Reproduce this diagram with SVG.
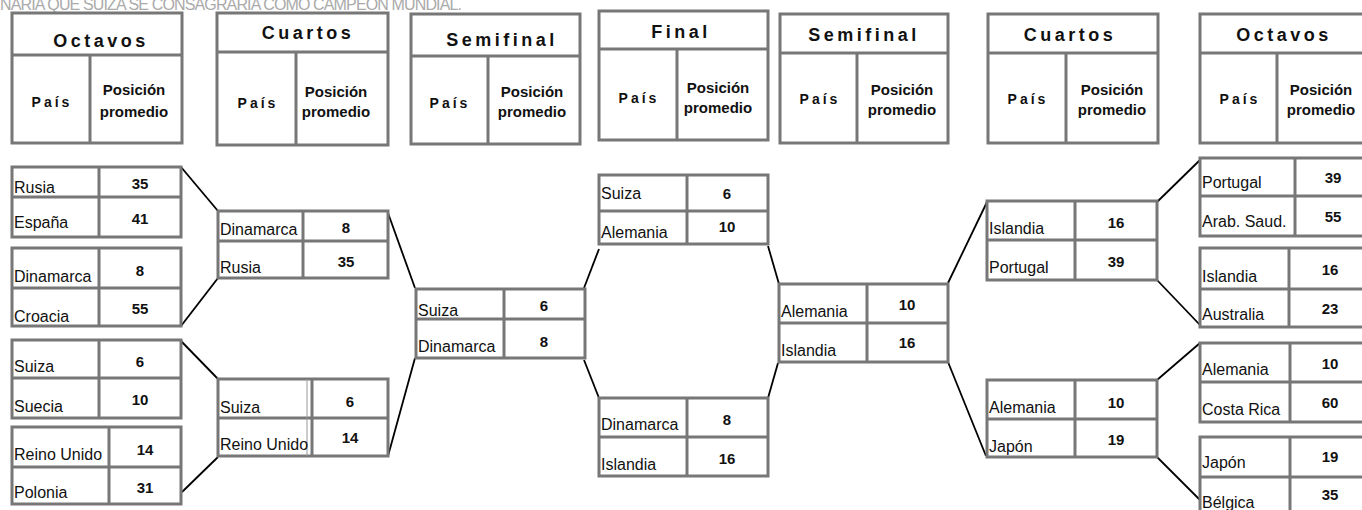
<svg xmlns="http://www.w3.org/2000/svg" width="1362" height="510" viewBox="0 0 1362 510">
<style>
.bg{fill:#fff}
.box{fill:#fff;stroke:#777;stroke-width:3}
.ln{stroke:#777;stroke-width:3}
.thin{stroke:#999;stroke-width:1}
.conn{stroke:#000;stroke-width:1.8;fill:none}
.c{font-family:"Liberation Sans",Arial,sans-serif;font-size:16px;fill:#111}
.n{font-family:"Liberation Sans",Arial,sans-serif;font-size:15px;font-weight:bold;fill:#111;text-anchor:middle}
.t{font-family:"Liberation Sans",Arial,sans-serif;font-size:18px;font-weight:bold;fill:#111;text-anchor:middle;letter-spacing:3.5px}
.p{font-family:"Liberation Sans",Arial,sans-serif;font-size:14px;font-weight:bold;fill:#111;text-anchor:middle;letter-spacing:3px}
.h{font-family:"Liberation Sans",Arial,sans-serif;font-size:15px;font-weight:bold;fill:#111;text-anchor:middle}
.top{font-family:"Liberation Sans",Arial,sans-serif;font-size:16px;fill:#aaa}
</style>
<rect class="bg" x="0" y="0" width="1362" height="510"/>
<text class="top" x="0" y="10" textLength="462" lengthAdjust="spacing">NARIA QUE SUIZA SE CONSAGRARÍA COMO CAMPEÓN MUNDIAL.</text>

<g id="connectors">
<line class="conn" x1="181" y1="167" x2="218" y2="211"/>
<line class="conn" x1="181" y1="326" x2="218" y2="278"/>
<line class="conn" x1="181" y1="341" x2="218" y2="379"/>
<line class="conn" x1="182" y1="492" x2="218" y2="457"/>
<line class="conn" x1="388" y1="213" x2="415" y2="288"/>
<line class="conn" x1="388" y1="456" x2="415" y2="358"/>
<line class="conn" x1="584" y1="288" x2="599" y2="249"/>
<line class="conn" x1="584" y1="360" x2="599" y2="398"/>
<line class="conn" x1="768" y1="246" x2="779" y2="284"/>
<line class="conn" x1="768" y1="398" x2="778" y2="363"/>
<line class="conn" x1="948" y1="283" x2="987" y2="202"/>
<line class="conn" x1="948" y1="362" x2="986" y2="456"/>
<line class="conn" x1="1157" y1="202" x2="1200" y2="160"/>
<line class="conn" x1="1157" y1="280" x2="1200" y2="325"/>
<line class="conn" x1="1157" y1="380" x2="1200" y2="343"/>
<line class="conn" x1="1157" y1="457" x2="1200" y2="500"/>
</g>

<!-- Headers -->
<g id="hdr-octavos-l">
<rect class="box" x="12" y="13" width="170" height="130"/>
<line class="ln" x1="12" y1="55" x2="182" y2="55"/>
<line class="ln" x1="90" y1="55" x2="90" y2="143"/>
<text class="t" x="101" y="47">Octavos</text>
<text class="p" x="52" y="107">País</text>
<text class="h" x="134" y="95">Posición</text>
<text class="h" x="134" y="117">promedio</text>
</g>
<g id="hdr-cuartos-l">
<rect class="box" x="217" y="13" width="171" height="132"/>
<line class="ln" x1="217" y1="52" x2="388" y2="52"/>
<line class="ln" x1="296" y1="52" x2="296" y2="145"/>
<text class="t" x="308" y="39">Cuartos</text>
<text class="p" x="258" y="108">País</text>
<text class="h" x="336" y="97">Posición</text>
<text class="h" x="336" y="117">promedio</text>
</g>
<g id="hdr-semifinal-l">
<rect class="box" x="411" y="14" width="169" height="130"/>
<line class="ln" x1="411" y1="56" x2="580" y2="56"/>
<line class="ln" x1="488" y1="56" x2="488" y2="144"/>
<text class="t" x="502" y="46">Semifinal</text>
<text class="p" x="450" y="108">País</text>
<text class="h" x="532" y="97">Posición</text>
<text class="h" x="532" y="117">promedio</text>
</g>
<g id="hdr-final">
<rect class="box" x="599" y="11" width="169" height="129"/>
<line class="ln" x1="599" y1="49" x2="768" y2="49"/>
<line class="ln" x1="677" y1="49" x2="677" y2="140"/>
<text class="t" x="681" y="38">Final</text>
<text class="p" x="639" y="103">País</text>
<text class="h" x="718" y="93">Posición</text>
<text class="h" x="718" y="113">promedio</text>
</g>
<g id="hdr-semifinal-r">
<rect class="box" x="780" y="14" width="168" height="129"/>
<line class="ln" x1="780" y1="53" x2="948" y2="53"/>
<line class="ln" x1="857" y1="53" x2="857" y2="143"/>
<text class="t" x="864" y="41">Semifinal</text>
<text class="p" x="820" y="104">País</text>
<text class="h" x="902" y="95">Posición</text>
<text class="h" x="902" y="115">promedio</text>
</g>
<g id="hdr-cuartos-r">
<rect class="box" x="988" y="14" width="170" height="129"/>
<line class="ln" x1="988" y1="53" x2="1158" y2="53"/>
<line class="ln" x1="1066" y1="53" x2="1066" y2="143"/>
<text class="t" x="1070" y="41">Cuartos</text>
<text class="p" x="1028" y="104">País</text>
<text class="h" x="1112" y="95">Posición</text>
<text class="h" x="1112" y="115">promedio</text>
</g>
<g id="hdr-octavos-r">
<rect class="box" x="1200" y="14" width="172" height="129"/>
<line class="ln" x1="1200" y1="53" x2="1372" y2="53"/>
<line class="ln" x1="1277" y1="53" x2="1277" y2="143"/>
<text class="t" x="1284" y="41">Octavos</text>
<text class="p" x="1240" y="104">País</text>
<text class="h" x="1321" y="95">Posición</text>
<text class="h" x="1321" y="115">promedio</text>
</g>

<!-- Octavos left -->
<g id="o1">
<rect class="box" x="12" y="167" width="169" height="70"/>
<line class="ln" x1="12" y1="197" x2="181" y2="197"/>
<line class="ln" x1="99" y1="167" x2="99" y2="237"/>
<text class="c" x="14" y="193">Rusia</text><text class="n" x="140" y="189">35</text>
<text class="c" x="14" y="228">España</text><text class="n" x="140" y="224">41</text>
</g>
<g id="o2">
<rect class="box" x="12" y="248" width="169" height="78"/>
<line class="ln" x1="12" y1="288" x2="181" y2="288"/>
<line class="ln" x1="99" y1="248" x2="99" y2="326"/>
<text class="c" x="14" y="282">Dinamarca</text><text class="n" x="140" y="276">8</text>
<text class="c" x="14" y="322">Croacia</text><text class="n" x="140" y="314">55</text>
</g>
<g id="o3">
<rect class="box" x="12" y="340" width="169" height="78"/>
<line class="ln" x1="12" y1="378" x2="181" y2="378"/>
<line class="ln" x1="99" y1="340" x2="99" y2="418"/>
<text class="c" x="14" y="372">Suiza</text><text class="n" x="140" y="367">6</text>
<text class="c" x="14" y="412">Suecia</text><text class="n" x="140" y="405">10</text>
</g>
<g id="o4">
<rect class="box" x="12" y="427" width="169" height="77"/>
<line class="ln" x1="12" y1="467" x2="181" y2="467"/>
<line class="ln" x1="109" y1="427" x2="109" y2="504"/>
<text class="c" x="14" y="460">Reino Unido</text><text class="n" x="145" y="455">14</text>
<text class="c" x="14" y="498">Polonia</text><text class="n" x="145" y="493">31</text>
</g>

<!-- Cuartos left -->
<g id="c1">
<rect class="box" x="218" y="211" width="170" height="67"/>
<line class="ln" x1="218" y1="241" x2="388" y2="241"/>
<line class="ln" x1="303" y1="211" x2="303" y2="278"/>
<text class="c" x="220" y="235">Dinamarca</text><text class="n" x="346" y="233">8</text>
<text class="c" x="220" y="273">Rusia</text><text class="n" x="346" y="267">35</text>
</g>
<g id="c2">
<rect class="box" x="218" y="379" width="170" height="77"/>
<line class="ln" x1="218" y1="418" x2="388" y2="418"/>
<line class="thin" x1="307" y1="379" x2="307" y2="456"/>
<line class="ln" x1="312" y1="379" x2="312" y2="456"/>
<text class="c" x="220" y="413">Suiza</text><text class="n" x="350" y="407">6</text>
<text class="c" x="220" y="450">Reino Unido</text><text class="n" x="350" y="443">14</text>
</g>

<!-- Semifinal left -->
<g id="s1">
<rect class="box" x="416" y="289" width="169" height="69"/>
<line class="ln" x1="416" y1="319" x2="585" y2="319"/>
<line class="ln" x1="504" y1="289" x2="504" y2="358"/>
<text class="c" x="418" y="316">Suiza</text><text class="n" x="544" y="311">6</text>
<text class="c" x="418" y="352">Dinamarca</text><text class="n" x="544" y="347">8</text>
</g>

<!-- Final -->
<g id="f1">
<rect class="box" x="599" y="175" width="169" height="69"/>
<line class="ln" x1="599" y1="211" x2="768" y2="211"/>
<line class="ln" x1="687" y1="175" x2="687" y2="244"/>
<text class="c" x="601" y="199">Suiza</text><text class="n" x="727" y="199">6</text>
<text class="c" x="601" y="238">Alemania</text><text class="n" x="727" y="232">10</text>
</g>
<g id="f2">
<rect class="box" x="599" y="398" width="169" height="78"/>
<line class="ln" x1="599" y1="437" x2="768" y2="437"/>
<line class="ln" x1="687" y1="398" x2="687" y2="476"/>
<text class="c" x="601" y="430">Dinamarca</text><text class="n" x="727" y="425">8</text>
<text class="c" x="601" y="470">Islandia</text><text class="n" x="727" y="464">16</text>
</g>

<!-- Semifinal right -->
<g id="s2">
<rect class="box" x="779" y="284" width="169" height="78"/>
<line class="ln" x1="779" y1="323" x2="948" y2="323"/>
<line class="ln" x1="867" y1="284" x2="867" y2="362"/>
<text class="c" x="781" y="317">Alemania</text><text class="n" x="907" y="310">10</text>
<text class="c" x="781" y="356">Islandia</text><text class="n" x="907" y="348">16</text>
</g>

<!-- Cuartos right -->
<g id="c3">
<rect class="box" x="987" y="201" width="170" height="79"/>
<line class="ln" x1="987" y1="240" x2="1157" y2="240"/>
<line class="ln" x1="1075" y1="201" x2="1075" y2="280"/>
<text class="c" x="989" y="234">Islandia</text><text class="n" x="1116" y="228">16</text>
<text class="c" x="989" y="273">Portugal</text><text class="n" x="1116" y="267">39</text>
</g>
<g id="c4">
<rect class="box" x="987" y="380" width="170" height="77"/>
<line class="ln" x1="987" y1="419" x2="1157" y2="419"/>
<line class="ln" x1="1075" y1="380" x2="1075" y2="457"/>
<text class="c" x="989" y="413">Alemania</text><text class="n" x="1116" y="408">10</text>
<text class="c" x="989" y="452">Japón</text><text class="n" x="1116" y="445">19</text>
</g>

<!-- Octavos right -->
<g id="o5">
<rect class="box" x="1200" y="158" width="172" height="78"/>
<line class="ln" x1="1200" y1="196" x2="1372" y2="196"/>
<line class="ln" x1="1295" y1="158" x2="1295" y2="236"/>
<text class="c" x="1202" y="188">Portugal</text><text class="n" x="1333" y="183">39</text>
<text class="c" x="1202" y="227">Arab. Saud.</text><text class="n" x="1333" y="222">55</text>
</g>
<g id="o6">
<rect class="box" x="1200" y="248" width="172" height="79"/>
<line class="ln" x1="1200" y1="289" x2="1372" y2="289"/>
<line class="ln" x1="1289" y1="248" x2="1289" y2="327"/>
<text class="c" x="1202" y="282">Islandia</text><text class="n" x="1330" y="275">16</text>
<text class="c" x="1202" y="320">Australia</text><text class="n" x="1330" y="314">23</text>
</g>
<g id="o7">
<rect class="box" x="1200" y="343" width="172" height="79"/>
<line class="ln" x1="1200" y1="382" x2="1372" y2="382"/>
<line class="ln" x1="1290" y1="343" x2="1290" y2="422"/>
<text class="c" x="1202" y="375">Alemania</text><text class="n" x="1330" y="369">10</text>
<text class="c" x="1202" y="415">Costa Rica</text><text class="n" x="1330" y="408">60</text>
</g>
<g id="o8">
<rect class="box" x="1200" y="437" width="172" height="80"/>
<line class="ln" x1="1200" y1="477" x2="1372" y2="477"/>
<line class="ln" x1="1290" y1="437" x2="1290" y2="517"/>
<text class="c" x="1202" y="468">Japón</text><text class="n" x="1330" y="462">19</text>
<text class="c" x="1202" y="508">Bélgica</text><text class="n" x="1330" y="500">35</text>
</g>
</svg>
